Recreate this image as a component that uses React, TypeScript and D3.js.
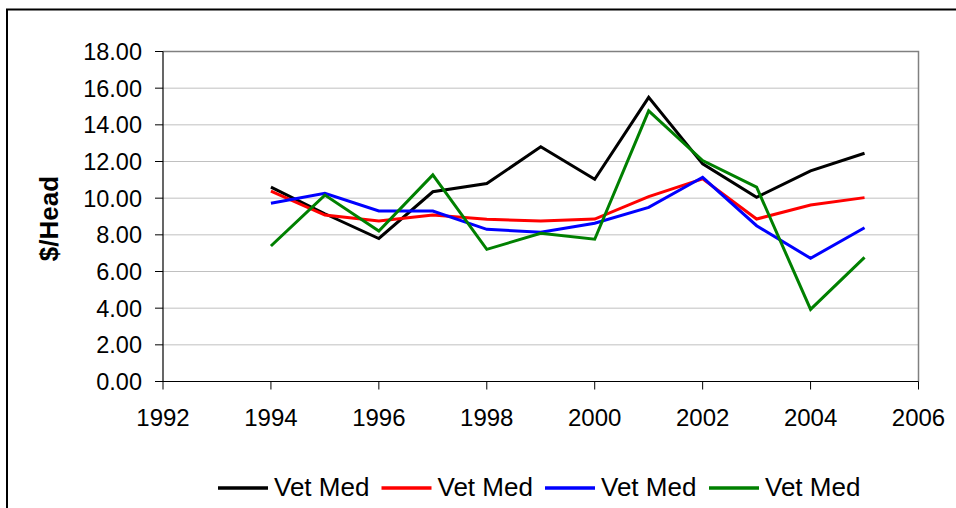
import React from 'react';
import * as d3 from 'd3';

// values ($/head by year)
const years = [1994, 1995, 1996, 1997, 1998, 1999, 2000, 2001, 2002, 2003, 2004, 2005];
const blackSeries = [10.6, 9.15, 7.8, 10.35, 10.8, 12.8, 11.03, 15.5, 11.87, 10.05, 11.49, 12.45];
const redSeries = [10.39, 9.08, 8.75, 9.08, 8.85, 8.75, 8.86, 10.08, 11.05, 8.86, 9.63, 10.03];
const blueSeries = [9.72, 10.27, 9.3, 9.3, 8.3, 8.14, 8.63, 9.5, 11.14, 8.5, 6.72, 8.39];
const greenSeries = [7.39, 10.17, 8.21, 11.27, 7.21, 8.08, 7.76, 14.76, 12.05, 10.6, 3.93, 6.77];

const seriesNames = ['Vet Med', 'Vet Med', 'Vet Med', 'Vet Med'];
const seriesColors = ['#000000', '#ff0000', '#0000ff', '#008000'];
const yTicks = [0, 2, 4, 6, 8, 10, 12, 14, 16, 18];
const xTicks = [1992, 1994, 1996, 1998, 2000, 2002, 2004, 2006];

const W = 956;
const H = 508;
const plot = { left: 163, top: 51.5, right: 918.5, bottom: 381.5 };
const font = '"Liberation Sans", Arial, sans-serif';

const App = () => {
  const x = d3.scaleLinear().domain([1992, 2006]).range([plot.left, plot.right]);
  const y = d3.scaleLinear().domain([0, 18]).range([plot.bottom, plot.top]);

  const line = d3.line<number>()
    .x((_, i) => x(years[i]))
    .y(d => y(d));

  const allSeries = [blackSeries, redSeries, blueSeries, greenSeries];
  const legendX = [218, 381.5, 545, 709];

  return (
    <div style={{ position: 'absolute', left: 0, top: 0 }}>
      <svg width={W} height={H} style={{ display: 'block', background: '#fff' }}>
        {/* outer chart border, runs off the right and bottom edge */}
        <rect x={7} y={9.5} width={1000} height={600} fill="#fff" stroke="#000" strokeWidth={2} />

        {/* gridlines */}
        {yTicks.filter(t => t > 0 && t < 18).map(t => (
          <line key={'g' + t} x1={plot.left} x2={plot.right} y1={y(t)} y2={y(t)} stroke="#c0c0c0" strokeWidth={1} />
        ))}

        {/* plot frame top/right */}
        <path
          d={`M${plot.left},${plot.top}H${plot.right}V${plot.bottom}`}
          fill="none"
          stroke="#808080"
          strokeWidth={1.5}
        />

        {/* y axis */}
        <line x1={plot.left} x2={plot.left} y1={plot.top} y2={plot.bottom} stroke="#000" strokeWidth={1.2} />
        {yTicks.map(t => (
          <g key={'y' + t}>
            <line x1={plot.left - 8} x2={plot.left} y1={y(t)} y2={y(t)} stroke="#000" strokeWidth={1} />
            <text
              x={142}
              y={y(t)}
              dy="0.36em"
              textAnchor="end"
              fontFamily={font}
              fontSize={23.5}
              fill="#000"
            >
              {t.toFixed(2)}
            </text>
          </g>
        ))}

        {/* x axis */}
        <line x1={plot.left} x2={plot.right} y1={plot.bottom} y2={plot.bottom} stroke="#000" strokeWidth={1.2} />
        {xTicks.map(t => (
          <g key={'x' + t}>
            <line x1={x(t)} x2={x(t)} y1={plot.bottom} y2={plot.bottom + 8} stroke="#000" strokeWidth={1} />
            <text x={x(t)} y={426} textAnchor="middle" fontFamily={font} fontSize={24} fill="#000">
              {t}
            </text>
          </g>
        ))}

        {/* y axis title */}
        <text
          transform={`translate(58, ${(plot.top + plot.bottom) / 2 + 2}) rotate(-90)`}
          textAnchor="middle"
          fontFamily={font}
          fontSize={26}
          fontWeight="bold"
          fill="#000"
        >
          $/Head
        </text>

        {/* series */}
        {allSeries.map((s, i) => (
          <path key={'s' + i} d={line(s) || ''} fill="none" stroke={seriesColors[i]} strokeWidth={3} strokeLinejoin="miter" />
        ))}

        {/* legend */}
        {seriesNames.map((name, i) => (
          <g key={'l' + i}>
            <line x1={legendX[i]} x2={legendX[i] + 50} y1={488} y2={488} stroke={seriesColors[i]} strokeWidth={3.5} />
            <text x={legendX[i] + 56} y={496} fontFamily={font} fontSize={26} fill="#000">
              {name}
            </text>
          </g>
        ))}
      </svg>
    </div>
  );
};

export default App;
